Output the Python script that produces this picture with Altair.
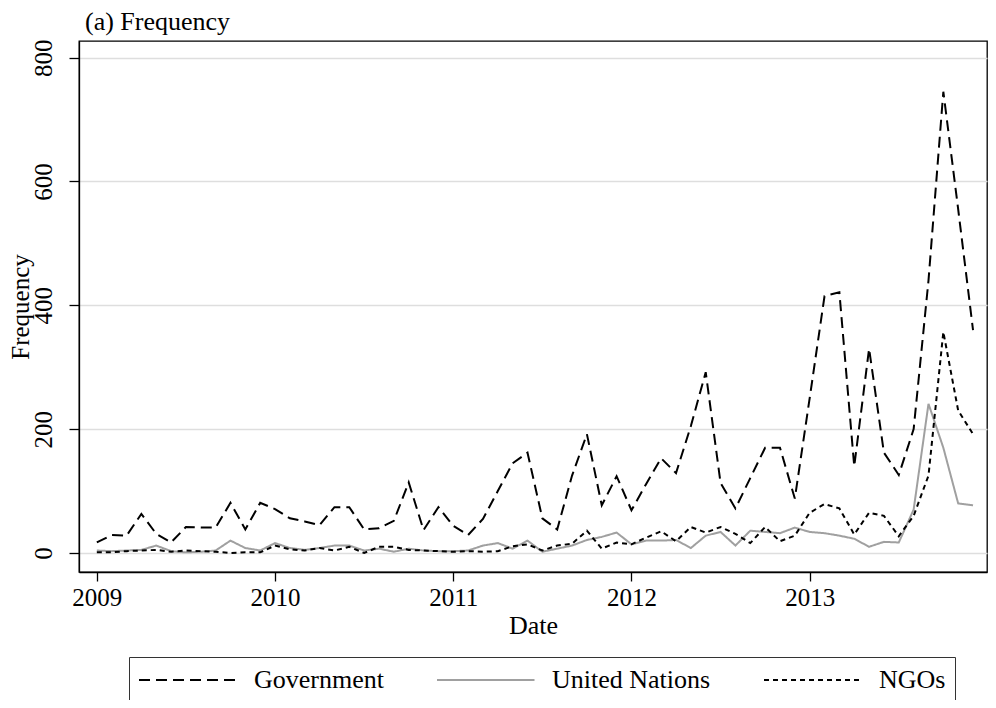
import altair as alt
import pandas as pd

# ---- data (monthly, 2009m1 .. 2013m12) ----
month_start = "2009-01"
n_months = 60
series_names = ["Government", "United Nations", "NGOs"]

government = [17, 29, 28, 63, 31, 17, 42, 41, 41, 81,
              38, 81, 71, 56, 51, 45, 74, 74, 38, 40,
              52, 114, 37, 74, 44, 29, 55, 100, 145, 162,
              56, 38, 125, 192, 77, 124, 69, 112, 153, 129,
              205, 292, 113, 72, 121, 170, 170, 88, 250, 415,
              421, 140, 330, 162, 126, 200, 440, 745, 555, 360]

united_nations = [4, 3, 4, 5, 12, 3, 1, 2, 4, 20,
                  8, 4, 16, 8, 5, 8, 12, 12, 4, 7,
                  2, 7, 4, 3, 3, 4, 12, 16, 7, 20,
                  2, 7, 12, 21, 26, 33, 14, 20, 20, 21,
                  8, 28, 34, 12, 36, 34, 32, 41, 34, 32,
                  28, 23, 10, 18, 17, 70, 241, 170, 80, 77]

ngos = [1, 1, 3, 4, 5, 2, 4, 3, 2, 0,
        1, 1, 12, 6, 4, 8, 4, 10, 0, 10,
        10, 5, 4, 3, 2, 3, 2, 3, 11, 14,
        4, 12, 15, 36, 7, 17, 14, 25, 35, 19,
        42, 33, 42, 31, 16, 42, 19, 28, 65, 79,
        72, 30, 65, 60, 27, 60, 125, 357, 230, 192]

year_ticks = [2009, 2010, 2011, 2012, 2013]
y_ticks = [0, 200, 400, 600, 800]

# ---- table ----
dates = pd.date_range(month_start, periods=n_months, freq="MS")
t = [d.year + (d.month - 1) / 12 for d in dates]
rows = []
for k, (name, vals) in enumerate(zip(series_names, [government, united_nations, ngos])):
    for ti, v in zip(t, vals):
        rows.append({"t": ti, "value": v, "series": name, "order": k})
df = pd.DataFrame(rows)

FONT = "Liberation Serif"

# long horizontal key line drawn by a custom symbol path
KEY_PATH = "M-1,0H6.5"

legend = alt.Legend(
    title=None,
    orient="none",
    legendX=50,
    legendY=616,
    direction="horizontal",
    columns=3,
    gridAlign="each",
    symbolType=KEY_PATH,
    symbolSize=676,
    symbolStrokeWidth=2,
    labelFont=FONT,
    labelFontSize=26,
    labelColor="black",
    labelOffset=88,
    columnPadding=49,
    padding=9,
    strokeColor="#333333",
)

chart = (
    alt.Chart(df)
    .mark_line(strokeWidth=2, clip=True)
    .encode(
        x=alt.X(
            "t:Q",
            title="Date",
            scale=alt.Scale(domain=[2008.9, 2013.995], nice=False, zero=False),
            axis=alt.Axis(values=year_ticks, format="d", grid=False, tickSize=9,
                          labelPadding=4, titlePadding=2),
        ),
        y=alt.Y(
            "value:Q",
            title="Frequency",
            scale=alt.Scale(domain=[-30.7, 826.9], nice=False, zero=False),
            axis=alt.Axis(values=y_ticks, labelAngle=270, labelAlign="center",
                          labelBaseline="bottom", grid=True, tickSize=10,
                          labelPadding=13, titlePadding=-2, titleFontSize=25),
        ),
        color=alt.Color("series:N",
                        scale=alt.Scale(domain=series_names,
                                        range=["#000000", "#a0a0a0", "#000000"]),
                        legend=legend),
        strokeDash=alt.StrokeDash("series:N",
                                  scale=alt.Scale(domain=series_names,
                                                  range=[[11, 6], [1, 0], [5, 4]]),
                                  legend=legend),
        order=alt.Order("order:Q"),
    )
    .properties(
        width=908,
        height=531,
        autosize=alt.AutoSizeParams(type="none"),
        padding={"left": 71, "top": 33, "right": 1, "bottom": 128},
        title=alt.TitleParams("(a) Frequency", anchor="start", frame="group", font=FONT,
                              fontSize=26, fontWeight="normal", color="black",
                              dx=6, offset=4),
    )
    .configure_view(stroke="black", strokeWidth=1.3)
    .configure_axis(
        domainColor="black", domainWidth=1.3, tickColor="black", tickWidth=1.3,
        labelFont=FONT, labelFontSize=25, labelColor="black",
        titleFont=FONT, titleFontSize=26, titleFontWeight="normal", titleColor="black",
        gridColor="#dedede", gridWidth=1.3,
    )
)

chart.save("out.html", embed_options={"renderer": "svg", "actions": False})
